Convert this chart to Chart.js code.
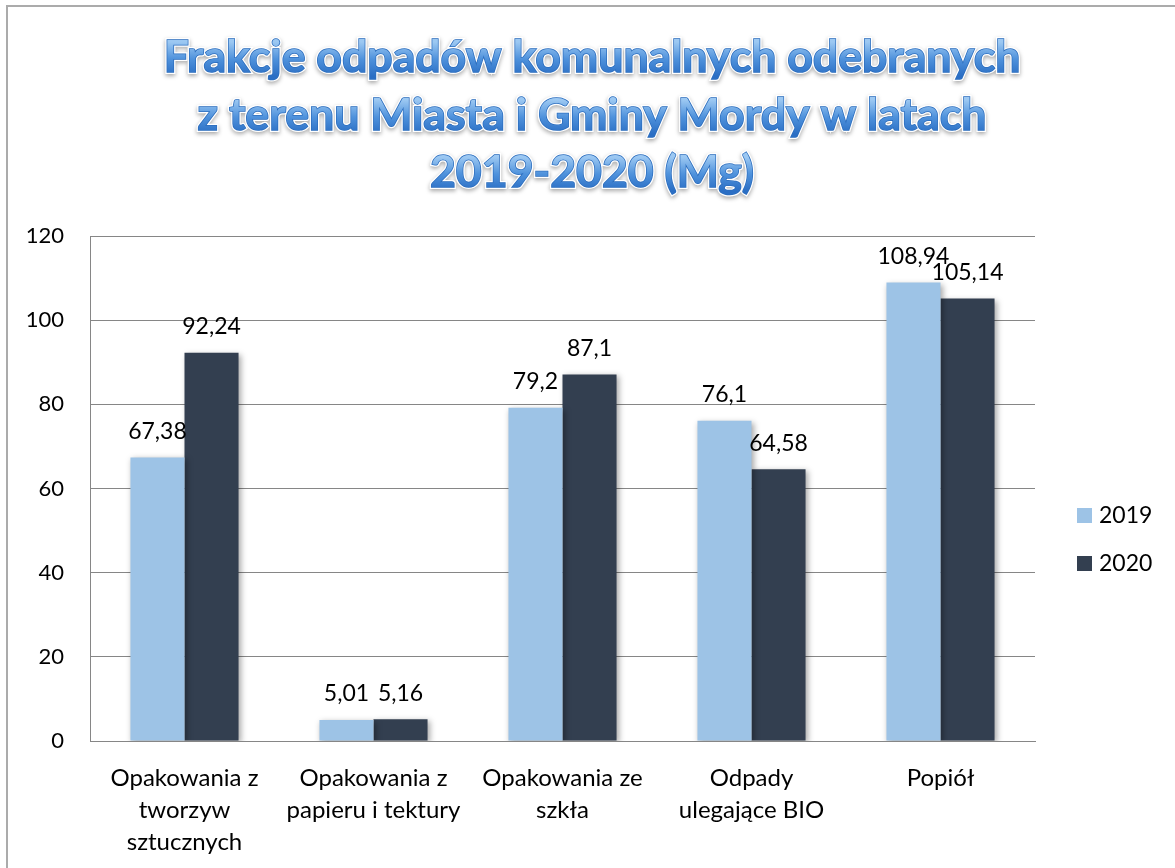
<!DOCTYPE html>
<html>
<head>
<meta charset="utf-8">
<script src="https://cdn.jsdelivr.net/npm/chart.js@4"></script>
<style>
	html, body { margin: 0; padding: 0; background: #fff; }
	.wrap { position: relative; width: 1175px; height: 868px; }
	.frame {
		position: absolute; left: 6px; top: 5px; right: 0; bottom: 0;
		border-top: 2px solid #ababab; border-left: 2px solid #ababab;
		pointer-events: none;
	}
</style>
</head>
<body>
<div class="wrap">
	<canvas id="odpady" width="1175" height="868"></canvas>
	<div class="frame"></div>
</div>
<script>
const categories = [
	['Opakowania z', 'tworzyw', 'sztucznych'],
	['Opakowania z', 'papieru i tektury'],
	['Opakowania ze', 'szkła'],
	['Odpady', 'ulegające BIO'],
	['Popiół'],
];
const values_2019 = [67.38, 5.01, 79.2, 76.1, 108.94];
const values_2020 = [92.24, 5.16, 87.1, 64.58, 105.14];
const series_names = ['2019', '2020'];
const title_lines = [
	'Frakcje odpadów komunalnych odebranych',
	'z terenu Miasta i Gminy Mordy w latach',
	'2019-2020 (Mg)',
];

const FONT = 'Lato, "Open Sans", sans-serif';
const colors = ['#9dc3e6', '#333f50'];

// fancy blue title, drawn above the plot
const titlePlugin = {
	id: 'fancyTitle',
	afterDraw(chart) {
		const ctx = chart.ctx;
		ctx.save();
		let size = 40;
		ctx.font = 'bold ' + size + 'px ' + FONT;
		size = size * 857 / ctx.measureText(title_lines[0]).width;
		ctx.font = 'bold ' + size + 'px ' + FONT;
		ctx.textAlign = 'center';
		ctx.textBaseline = 'alphabetic';
		const baselines = [72, 130, 187];
		title_lines.forEach((line, i) => {
			const y = baselines[i];
			const g = ctx.createLinearGradient(0, y - 30, 0, y + 4);
			g.addColorStop(0, '#9cc8f2');
			g.addColorStop(0.5, '#4f92dc');
			g.addColorStop(1, '#2a6ec4');
			ctx.shadowColor = 'rgba(0,0,0,0.35)';
			ctx.shadowBlur = 4;
			ctx.shadowOffsetY = 2;
			ctx.lineWidth = 4;
			ctx.strokeStyle = '#ffffff';
			ctx.strokeText(line, 592, y);
			ctx.shadowColor = 'transparent';
			ctx.lineWidth = 1.5;
			ctx.strokeStyle = '#2a6cbd';
			ctx.strokeText(line, 592, y);
			ctx.fillStyle = g;
			ctx.fillText(line, 592, y);
		});
		ctx.restore();
	}
};

// soft shadow behind the bars
const shadowPlugin = {
	id: 'barShadow',
	beforeDatasetsDraw(chart) {
		const ctx = chart.ctx;
		ctx.save();
		ctx.shadowColor = 'rgba(0,0,0,0.35)';
		ctx.shadowBlur = 6;
		ctx.shadowOffsetX = 2;
		ctx.shadowOffsetY = 2;
	},
	afterDatasetsDraw(chart) {
		chart.ctx.restore();
	}
};

// value labels above the bars, with comma decimals
const valueLabels = {
	id: 'valueLabels',
	afterDatasetsDraw(chart) {
		const ctx = chart.ctx;
		ctx.save();
		ctx.font = '23px ' + FONT;
		ctx.fillStyle = '#000';
		ctx.textAlign = 'center';
		ctx.textBaseline = 'middle';
		chart.data.datasets.forEach((ds, i) => {
			chart.getDatasetMeta(i).data.forEach((bar, j) => {
				ctx.fillText(String(ds.data[j]).replace('.', ','), bar.x, bar.y - 26);
			});
		});
		ctx.restore();
	}
};

// legend on the right, placed like the original
const sideLegend = {
	id: 'sideLegend',
	afterDraw(chart) {
		const ctx = chart.ctx;
		ctx.save();
		ctx.font = '23px ' + FONT;
		ctx.textBaseline = 'middle';
		const ys = [515, 563];
		chart.data.datasets.forEach((ds, i) => {
			ctx.fillStyle = ds.backgroundColor;
			ctx.fillRect(1077, ys[i] - 7, 15, 15);
			ctx.fillStyle = '#000';
			ctx.fillText(ds.label, 1099, ys[i] + 1);
		});
		ctx.restore();
	}
};

const data_odpady = {
	labels: categories,
	datasets: [
		{
			label: series_names[0],
			data: values_2019,
			backgroundColor: colors[0],
			borderWidth: 0,
		},
		{
			label: series_names[1],
			data: values_2020,
			backgroundColor: colors[1],
			borderWidth: 0,
		},
	]
};

const config_odpady = {
	type: 'bar',
	data: data_odpady,
	plugins: [titlePlugin, shadowPlugin, valueLabels, sideLegend],
	options: {
		responsive: false,
		animation: false,
		datasets: {
			bar: {
				categoryPercentage: 0.572,
				barPercentage: 1.0,
			}
		},
		layout: {
			padding: { top: 236, right: 140, left: 0, bottom: 0 }
		},
		plugins: {
			legend: { display: false },
			title: { display: false },
			tooltip: { enabled: false },
		},
		scales: {
			x: {
				afterFit(scale) { scale.height = 868 - 741; },
				grid: { display: false },
				border: { display: true, color: '#868686', width: 1 },
				ticks: {
					color: '#000',
					font: { family: FONT, size: 24, lineHeight: 1.33 },
					padding: 13,
					maxRotation: 0,
					autoSkip: false,
				},
			},
			y: {
				min: 0,
				max: 120,
				afterFit(scale) { scale.width = 90; },
				grid: {
					color: '#868686',
					drawTicks: false,
				},
				border: { display: true, color: '#868686', width: 1 },
				ticks: {
					stepSize: 20,
					color: '#000',
					font: { family: FONT, size: 22 },
					padding: 26,
				},
			},
		}
	},
};

const odpady = new Chart(
	document.getElementById('odpady'),
	config_odpady
);
</script>
</body>
</html>
